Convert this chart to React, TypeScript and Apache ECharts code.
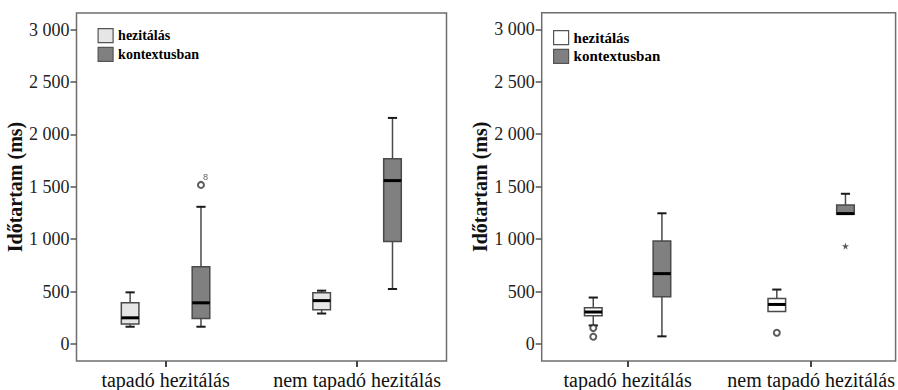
import React, { useEffect, useRef } from 'react';
import * as echarts from 'echarts';

const categories = ['tapadó hezitálás', 'nem tapadó hezitálás'];
const seriesNames = ['hezitálás', 'kontextusban'];
const yTickValues = [0, 500, 1000, 1500, 2000, 2500, 3000];
const yAxisName = 'Időtartam (ms)';

// [min, Q1, median, Q3, max] for each category
const leftHezitalas = [
  [165, 190, 250, 393, 493],
  [291, 326, 414, 488, 509],
];
const leftKontextusban = [
  [165, 244, 393, 737, 1309],
  [525, 977, 1559, 1768, 2157],
];
// [categoryIndex, value]
const leftKontextusbanOutliers = [[0, 1518]];
const leftOutlierLabels = ['8'];

const rightHezitalas = [
  [177, 269, 305, 345, 443],
  [310, 310, 377, 433, 519],
];
const rightKontextusban = [
  [73, 450, 671, 981, 1246],
  [1237, 1237, 1243, 1325, 1432],
];
const rightHezitalasOutliers = [[0, 152], [0, 70], [1, 108]];
const rightKontextusbanExtremes = [[1, 933]];

const FONT = 'Liberation Serif';
const STAR = 'path://M50,0 L61,35 L98,35 L68,57 L79,91 L50,70 L21,91 L32,57 L2,35 L39,35 Z';

function fmt(v: number) {
  return String(v).replace(/\B(?=(\d{3})+(?!\d))/g, ' ');
}

function boxSeries(name: string, data: number[][], axisIdx: number, offset: number, fill: string) {
  return {
    type: 'custom',
    name,
    xAxisIndex: axisIdx,
    yAxisIndex: axisIdx,
    data: data.map((d, i) => [i + 1 + offset, ...d]),
    encode: { x: 0, y: [1, 2, 3, 4, 5] },
    itemStyle: { color: fill },
    renderItem: (params: any, api: any) => {
      const x = api.value(0);
      const pMin = api.coord([x, api.value(1)]);
      const pQ1 = api.coord([x, api.value(2)]);
      const pMed = api.coord([x, api.value(3)]);
      const pQ3 = api.coord([x, api.value(4)]);
      const pMax = api.coord([x, api.value(5)]);
      const cx = pMin[0];
      const hw = 8.8;
      const cap = 4.6;
      const lineStyle = { stroke: '#4a4a4a', lineWidth: 1.5 };
      const capStyle = { stroke: '#1a1a1a', lineWidth: 2 };
      const children: any[] = [];
      if (pMax[1] < pQ3[1] - 0.5) {
        children.push({ type: 'line', shape: { x1: cx, y1: pQ3[1], x2: cx, y2: pMax[1] }, style: lineStyle });
        children.push({ type: 'line', shape: { x1: cx - cap, y1: pMax[1], x2: cx + cap, y2: pMax[1] }, style: capStyle });
      }
      if (pMin[1] > pQ1[1] + 0.5) {
        children.push({ type: 'line', shape: { x1: cx, y1: pQ1[1], x2: cx, y2: pMin[1] }, style: lineStyle });
        children.push({ type: 'line', shape: { x1: cx - cap, y1: pMin[1], x2: cx + cap, y2: pMin[1] }, style: capStyle });
      }
      children.push({
        type: 'rect',
        shape: { x: cx - hw, y: pQ3[1], width: hw * 2, height: pQ1[1] - pQ3[1] },
        style: { fill, stroke: '#4a4a4a', lineWidth: 1.5 },
      });
      children.push({
        type: 'line',
        shape: { x1: cx - hw, y1: pMed[1], x2: cx + hw, y2: pMed[1] },
        style: { stroke: '#000', lineWidth: 3 },
      });
      return { type: 'group', children };
    },
  };
}

function outlierSeries(data: number[][], axisIdx: number, offset: number, symbol: string, size: number, labels?: string[]) {
  return {
    type: 'scatter',
    name: 'outlier',
    xAxisIndex: axisIdx,
    yAxisIndex: axisIdx,
    symbol,
    symbolSize: size,
    itemStyle: symbol === 'emptyCircle' ? { color: '#333', borderWidth: 1.2 } : { color: '#333' },
    label: labels
      ? {
          show: true,
          formatter: (p: any) => labels[p.dataIndex] || '',
          position: [6, -8],
          fontSize: 9,
          fontFamily: 'Liberation Sans',
          color: '#333',
        }
      : { show: false },
    data: data.map((d) => [d[0] + 1 + offset, d[1]]),
  };
}

function yAxis(gridIndex: number) {
  return {
    type: 'value',
    gridIndex,
    min: -162,
    max: 3158,
    name: yAxisName,
    nameLocation: 'middle',
    nameGap: 48,
    nameTextStyle: { fontFamily: FONT, fontWeight: 'bold', fontSize: 20, color: '#111' },
    axisLine: { show: false },
    splitLine: { show: false },
    axisTick: { show: true, length: 6, customValues: yTickValues, lineStyle: { color: '#555', width: 1.5 } },
    axisLabel: {
      customValues: yTickValues,
      formatter: (v: number) => fmt(v),
      fontFamily: FONT,
      fontSize: 18,
      color: '#222',
      margin: 7,
    },
  };
}

function xAxis(gridIndex: number, min: number, max: number) {
  return {
    type: 'value',
    gridIndex,
    min,
    max,
    position: 'bottom',
    axisLine: { show: false, onZero: false },
    splitLine: { show: false },
    axisTick: { show: true, length: 6, customValues: [1, 2], lineStyle: { color: '#444', width: 2 } },
    axisLabel: {
      customValues: [1, 2],
      formatter: (v: number) => categories[Math.round(v) - 1] || '',
      fontFamily: FONT,
      fontSize: 20,
      color: '#111',
      margin: 9,
    },
  };
}

function legend(left: number, top: number, lightFill: string, size: number, fontSize: number) {
  return {
    left,
    top,
    padding: 0,
    orient: 'vertical',
    icon: 'rect',
    itemWidth: size,
    itemHeight: size - 1,
    itemGap: 3.5,
    selectedMode: false,
    textStyle: { fontFamily: FONT, fontWeight: 'bold', fontSize, color: '#000', lineHeight: size },
    data: [
      { name: seriesNames[0], itemStyle: { color: lightFill, borderColor: '#555', borderWidth: 1.2 } },
      { name: seriesNames[1], itemStyle: { color: '#808080', borderColor: '#555', borderWidth: 1.2 } },
    ],
  };
}

export default function App() {
  const ref = useRef<HTMLDivElement>(null);
  useEffect(() => {
    if (!ref.current) return;
    const chart = echarts.init(ref.current, undefined, { renderer: 'svg' });
    const leftOff = 0.185;
    const rightOff = 0.187;
    chart.setOption({
      animation: false,
      backgroundColor: '#fff',
      textStyle: { fontFamily: FONT },
      grid: [
        { left: 76.5, top: 13, width: 370, height: 350, show: true, borderColor: '#6e6e6e', borderWidth: 1.5 },
        { left: 541.7, top: 12.7, width: 355, height: 350, show: true, borderColor: '#6e6e6e', borderWidth: 1.5 },
      ],
      legend: [legend(97.5, 28, '#e6e6e6', 15, 14), legend(553, 30, '#ffffff', 15, 15)],
      xAxis: [xAxis(0, 0.535, 2.467), xAxis(1, 0.532, 2.46)],
      yAxis: [yAxis(0), yAxis(1)],
      series: [
        boxSeries(seriesNames[0], leftHezitalas, 0, -leftOff, '#e6e6e6'),
        boxSeries(seriesNames[1], leftKontextusban, 0, leftOff, '#808080'),
        outlierSeries(leftKontextusbanOutliers, 0, leftOff, 'emptyCircle', 6, leftOutlierLabels),
        boxSeries(seriesNames[0], rightHezitalas, 1, -rightOff, '#ffffff'),
        boxSeries(seriesNames[1], rightKontextusban, 1, rightOff, '#808080'),
        outlierSeries(rightHezitalasOutliers, 1, -rightOff, 'emptyCircle', 6),
        outlierSeries(rightKontextusbanExtremes, 1, rightOff, STAR, 7),
      ],
    });
    return () => chart.dispose();
  }, []);
  return <div ref={ref} style={{ position: 'fixed', left: 0, top: 0, width: 898, height: 390 }} />;
}
